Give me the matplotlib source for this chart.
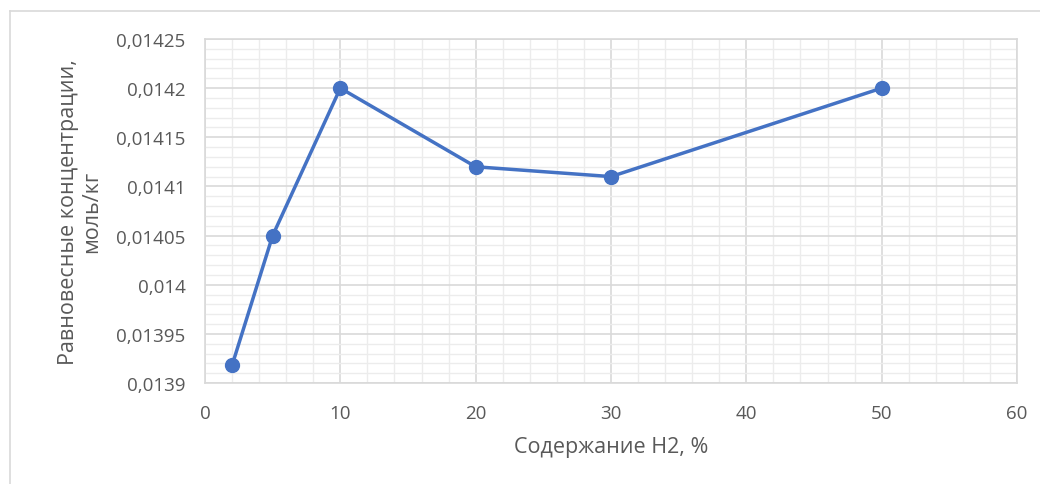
import matplotlib
matplotlib.use("Agg")
import matplotlib.pyplot as plt
from matplotlib.ticker import MultipleLocator, FuncFormatter
from matplotlib.lines import Line2D

# Содержание H2 и равновесные концентрации
h2_content = [2, 5, 10, 20, 30, 50]
concentration = [0.013918, 0.01405, 0.0142, 0.01412, 0.01411, 0.0142]

plt.rcParams['font.family'] = ['Open Sans', 'DejaVu Sans']
text_color = '#595959'


def comma_fmt(v, pos):
    s = f"{round(v, 6):.5f}".rstrip('0').rstrip('.')
    return s.replace('.', ',')


fig = plt.figure(figsize=(10.4, 4.85), dpi=100)
ax = fig.add_axes([205 / 1040, 1 - 384 / 485, 812 / 1040, 344 / 485])

ax.plot(h2_content, concentration, color='#4472C4', linewidth=2.5,
        marker='o', markersize=10, zorder=3)

ax.set_xlim(0, 60)
ax.set_ylim(0.0139, 0.01425)
ax.xaxis.set_major_locator(MultipleLocator(10))
ax.xaxis.set_minor_locator(MultipleLocator(2))
ax.yaxis.set_major_locator(MultipleLocator(0.00005))
ax.yaxis.set_minor_locator(MultipleLocator(0.00001))
ax.yaxis.set_major_formatter(FuncFormatter(comma_fmt))
ax.xaxis.set_major_formatter(FuncFormatter(lambda v, p: f"{v:g}"))

ax.grid(which='major', color='#d9d9d9', linewidth=1.2)
ax.grid(which='minor', color='#ececec', linewidth=1.0)
ax.set_axisbelow(True)
for side in ['top', 'right', 'left', 'bottom']:
    ax.spines[side].set_color('#d9d9d9')
    ax.spines[side].set_linewidth(1.2)

ax.tick_params(which='both', length=0, labelsize=13.5, colors=text_color)
ax.tick_params(axis='x', pad=15)
ax.tick_params(axis='y', pad=14)

ax.set_xlabel('Содержание Н2, %', fontsize=15.5, color=text_color, labelpad=10)
ax.set_ylabel('Равновесные концентрации,\nмоль/кг', fontsize=15.5,
              color=text_color, labelpad=10, linespacing=1.15)

# рамка области диаграммы
fig.add_artist(Line2D([10 / 1040, 10 / 1040], [0, 1 - 12 / 485],
                      color='#d9d9d9', linewidth=1.2))
fig.add_artist(Line2D([10 / 1040, 1], [1 - 12 / 485, 1 - 12 / 485],
                      color='#d9d9d9', linewidth=1.2))

fig.savefig('out.png', dpi=100)
